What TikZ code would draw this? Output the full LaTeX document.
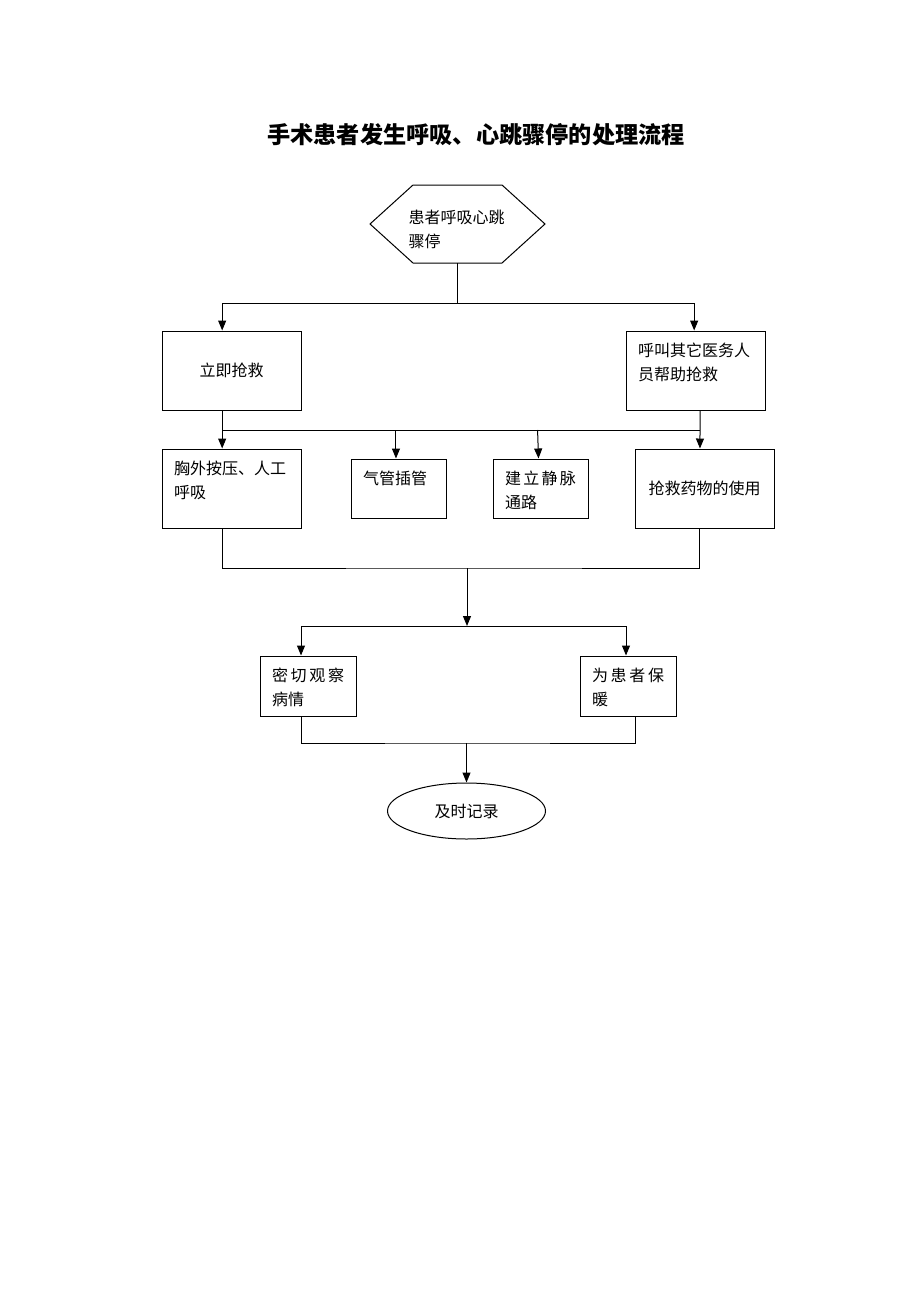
\documentclass[tikz,border=0pt]{standalone}
\usepackage{fontspec}
\setmainfont{Noto Sans CJK SC}
\usetikzlibrary{arrows.meta,shapes.geometric}

\tikzset{every picture/.style={line width=0.75pt}}
\tikzset{
	procbox/.style={draw, rectangle, inner xsep=9pt, inner ysep=9pt, font=\fontsize{12}{18}\selectfont},
	midbox/.style={draw, rectangle, minimum width=104.25pt, minimum height=59.25pt, inner sep=2pt, font=\fontsize{12}{18}\selectfont},
	hextext/.style={rectangle, outer sep=0pt, inner sep=0pt, minimum width=131.25pt, minimum height=58.5pt, font=\fontsize{12}{18}\selectfont},
	endoval/.style={draw, ellipse, minimum width=118.5pt, minimum height=42pt, inner sep=0pt, font=\fontsize{12}{18}\selectfont},
	flow/.style={-{Triangle[length=7.5pt,width=6pt]}}
}

\begin{document}
\begin{tikzpicture}[x=0.75pt,y=0.75pt,yscale=-1,xscale=1]
		\useasboundingbox (0,0) rectangle (920,1302);
		
		%title
		\node [font=\bfseries\fontsize{17.4}{20}\selectfont] (title) at (476,135) {手术患者发生呼吸、心跳骤停的处理流程};
		
		%Shape: Hexagon
		\node [hextext] (start) at (457.5,224) {\parbox[c][21pt][t]{73.5pt}{患者呼吸心跳\\骤停}};
		\draw (start.west) -- ([xshift=32.25pt]start.north west) -- ([xshift=-32.25pt]start.north east) -- (start.east) -- ([xshift=-32.25pt]start.south east) -- ([xshift=32.25pt]start.south west) -- cycle ;
		
		\node [midbox] (rescue) at (231.5,370.5) {立即抢救};
		\node [procbox] (call) at (695.5,370.5) {\parbox[c][41.25pt][t]{86.25pt}{呼叫其它医务人\\员帮助抢救}};
		
		\node [procbox] (chest) at (231.5,488.5) {\parbox[c][41.25pt][t]{86.25pt}{胸外按压、人工\\呼吸}};
		\node [procbox] (tube) at (398.5,488.5) {\parbox[c][26.25pt][t]{53.25pt}{气管插管}};
		\node [procbox] (vein) at (540.5,488.5) {\parbox[c][26.25pt][t]{53.25pt}{建\hfill 立\hfill 静\hfill 脉\\通路}};
		\node [midbox] (drug) at (704.5,488.5) {抢救药物的使用};
		
		\node [procbox] (observe) at (308,686) {\parbox[c][27pt][t]{54pt}{密\hfill 切\hfill 观\hfill 察\\病情}};
		\node [procbox] (warm) at (628,686) {\parbox[c][27pt][t]{54pt}{为\hfill 患\hfill 者\hfill 保\\暖}};
		
		%Shape: Ellipse
		\node [endoval] (record) at (466.5,811) {及时记录};
		
		\coordinate (j1) at (457.5,303);
		\coordinate (j2l) at (222,430);
		\coordinate (j2r) at (700,430);
		\coordinate (j3) at (467,568);
		\coordinate (j4) at (467,626);
		\coordinate (j5) at (466.5,743);
		
		\draw (start) -- (j1) ;
		\draw [flow] (j1) -| ([xshift=-7pt]rescue.north) ;
		\draw [flow] (j1) -| ([xshift=-1pt]call.north) ;
		
		\draw [flow] ([xshift=-7pt]rescue.south) -- ([xshift=-7pt]chest.north) ;
		\draw [flow] ([xshift=3.4pt]call.south) -- ([xshift=-3.4pt]drug.north) ;
		\draw (j2l) -- (j2r) ;
		\draw [flow] ([xshift=-1.9pt]tube.north |- j2l) -- ([xshift=-1.9pt]tube.north) ;
		\draw [flow] ([xshift=-2.2pt]vein.north |- j2l) -- ([xshift=-1.5pt]vein.north) ;
		
		\draw ([xshift=-7pt]chest.south) |- (j3) -| ([xshift=-3.4pt]drug.south) ;
		\draw [flow] (j3) -- (j4) ;
		\draw [flow] (j4) -| ([xshift=-5.25pt]observe.north) ;
		\draw [flow] (j4) -| ([xshift=-1.5pt]warm.north) ;
		
		\draw ([xshift=-5.25pt]observe.south) |- (j5) -| ([xshift=5.25pt]warm.south) ;
		\draw [flow] (j5) -- (record) ;
		
\end{tikzpicture}
\end{document}
